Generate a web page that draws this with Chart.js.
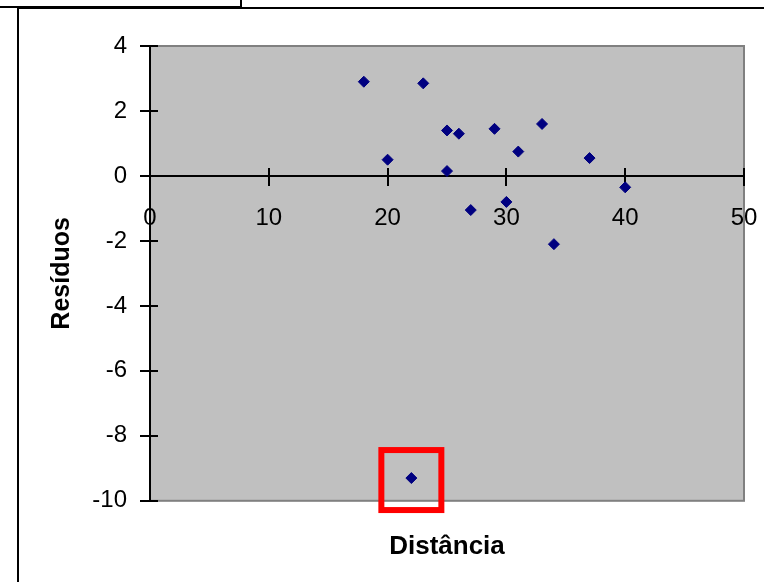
<!DOCTYPE html>
<html>
<head>
<meta charset="utf-8">
<script src="https://cdn.jsdelivr.net/npm/chart.js@4/dist/chart.umd.min.js"></script>
<style>
  html, body { margin: 0; padding: 0; background: #fff; overflow: hidden; }
  #page { position: relative; width: 764px; height: 582px; overflow: hidden; }
  .cell-box { position: absolute; left: -3px; top: -3px; width: 241px; height: 7px; border: 2px solid #000; }
  .frame { position: absolute; left: 17px; top: 7px; width: 900px; height: 900px; border: 2px solid #000; }
  #wrap { position: absolute; left: 0; top: 0; width: 764px; height: 582px; }
</style>
</head>
<body>
<div id="page">
  <div class="frame"></div>
  <div class="cell-box"></div>
  <div id="wrap"><canvas id="chart"></canvas></div>
</div>
<script>
const distancia = [18, 20, 23, 25, 26, 25, 29, 33, 31, 37, 40, 30, 27, 34, 22];
const residuos = [2.9, 0.5, 2.85, 1.4, 1.3, 0.15, 1.45, 1.6, 0.75, 0.55, -0.35, -0.8, -1.05, -2.1, -9.3];
const xTicks = [0, 10, 20, 30, 40, 50];
const yTicks = [4, 2, 0, -2, -4, -6, -8, -10];
const xTitle = 'Distância';
const yTitle = 'Resíduos';

const FONT = "'Liberation Sans', Arial, sans-serif";
const points = distancia.map((x, i) => ({ x, y: residuos[i] }));
// the outlier that gets the red box
const outlierIndex = residuos.indexOf(Math.min(...residuos));

const plotArea = {
  id: 'plotArea',
  beforeDraw(chart) {
    const { ctx, chartArea: a } = chart;
    ctx.save();
    ctx.fillStyle = '#c0c0c0';
    ctx.fillRect(a.left, a.top, a.right - a.left, a.bottom - a.top);
    ctx.strokeStyle = '#808080';
    ctx.lineWidth = 2;
    ctx.strokeRect(a.left, a.top, a.right - a.left, a.bottom - a.top);
    ctx.restore();
  },
  afterDraw(chart) {
    const { ctx } = chart;
    const xs = chart.scales.x;
    const ys = chart.scales.y;
    const zeroY = ys.getPixelForValue(0);
    const axisX = xs.getPixelForValue(0);
    ctx.save();
    ctx.strokeStyle = '#000';
    ctx.lineWidth = 2;
    // inner half of the crossing tick marks
    ctx.beginPath();
    xTicks.forEach((v) => {
      const px = Math.round(xs.getPixelForValue(v));
      ctx.moveTo(px, zeroY);
      ctx.lineTo(px, zeroY - 8);
    });
    yTicks.forEach((v) => {
      const py = Math.round(ys.getPixelForValue(v));
      ctx.moveTo(axisX, py);
      ctx.lineTo(axisX + 8, py);
    });
    ctx.stroke();

    // red highlight square around the outlier
    const p = chart.getDatasetMeta(0).data[outlierIndex];
    ctx.strokeStyle = '#ff0000';
    ctx.lineWidth = 6;
    ctx.strokeRect(p.x - 30, p.y - 28, 60, 60);
    ctx.restore();
  }
};

new Chart(document.getElementById('chart'), {
  type: 'scatter',
  data: {
    datasets: [{
      data: points,
      pointStyle: 'rectRot',
      pointRadius: 5.5,
      borderWidth: 1,
      backgroundColor: '#000080',
      borderColor: '#000080'
    }]
  },
  options: {
    responsive: true,
    maintainAspectRatio: false,
    animation: false,
    layout: { padding: { left: 40, top: 46, right: 20, bottom: 10 } },
    scales: {
      x: {
        type: 'linear',
        position: { y: 0 },
        min: 0,
        max: 50,
        afterBuildTicks(scale) { scale.ticks = xTicks.map((v) => ({ value: v })); },
        afterFit(scale) { scale.paddingLeft = 0; scale.paddingRight = 0; },
        grid: { drawOnChartArea: false, drawTicks: true, tickLength: 9, color: '#000', lineWidth: 2 },
        border: { display: true, color: '#000', width: 2 },
        ticks: { color: '#000', padding: 19, maxRotation: 0, font: { family: FONT, size: 24 } }
      },
      y: {
        type: 'linear',
        position: 'left',
        min: -10,
        max: 4,
        afterBuildTicks(scale) { scale.ticks = yTicks.map((v) => ({ value: v })); },
        afterFit(scale) { scale.width = 110; },
        grid: { drawOnChartArea: false, drawTicks: true, tickLength: 10, color: '#000', lineWidth: 2 },
        border: { display: true, color: '#000', width: 2 },
        ticks: { color: '#000', padding: 13, font: { family: FONT, size: 24 } },
        title: {
          display: true,
          text: yTitle,
          color: '#000',
          padding: { top: 7, bottom: 0 },
          font: { family: FONT, size: 25, weight: 'bold' }
        }
      }
    },
    plugins: {
      legend: { display: false },
      tooltip: { enabled: false },
      title: {
        display: true,
        position: 'bottom',
        fullSize: false,
        text: xTitle,
        color: '#000',
        padding: { top: 30, bottom: 10 },
        font: { family: FONT, size: 26, weight: 'bold' }
      }
    }
  },
  plugins: [plotArea]
});
</script>
</body>
</html>
